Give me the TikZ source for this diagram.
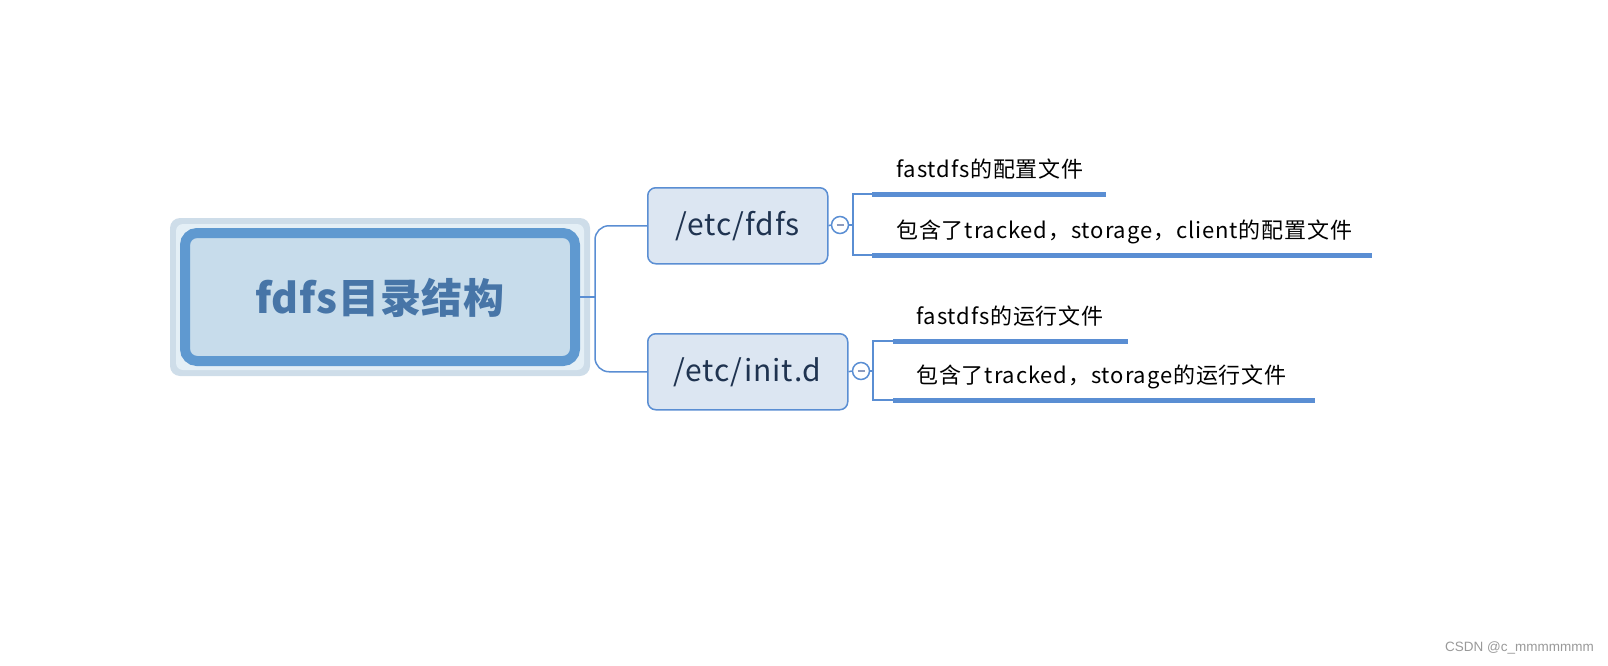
\documentclass[tikz,border=0pt]{standalone}
\usepackage{fontspec}
\setmainfont{Noto Sans CJK SC}
\newfontfamily\wmfont{Liberation Sans}
\definecolor{halo}{HTML}{CEDDE9}
\definecolor{haloin}{HTML}{E4EFF6}
\definecolor{mainborder}{HTML}{5F99D0}
\definecolor{mainfill}{HTML}{C7DCEB}
\definecolor{maintext}{HTML}{4775A7}
\definecolor{subfill}{HTML}{DCE6F2}
\definecolor{lineblue}{HTML}{5A8ED3}
\definecolor{subtext}{HTML}{1F3350}
\definecolor{minusc}{HTML}{8C9BBE}
\tikzset{
  branchbox/.style={draw=lineblue, line width=1.5pt, fill=subfill, rounded corners=8pt, anchor=north west, inner sep=0pt, text=subtext, font=\fontsize{30}{34}\selectfont\addfontfeature{LetterSpace=3}},
  conn/.style={draw=lineblue, line width=1.5pt},
  uline/.style={draw=lineblue, line width=5pt},
  leaftext/.style={anchor=base west, inner sep=0pt, font=\fontsize{22}{26}\selectfont\addfontfeature{LetterSpace=4}, text=black},
  collapse/.style={circle, draw=lineblue, line width=1.5pt, fill=white, minimum size=17pt, inner sep=0pt},
}
\begin{document}
\begin{tikzpicture}[x=1pt,y=-1pt]
\useasboundingbox (0,0) rectangle (1608,666);
% main topic
\fill[halo, rounded corners=10pt] (170,218) rectangle (590,376);
\fill[haloin, rounded corners=7pt] (176,224) rectangle (584,370);
\draw[mainborder, line width=10pt, fill=mainfill, rounded corners=12pt] (185,233) rectangle (575,361);
\node[inner sep=0pt, text=maintext, font=\fontsize{41}{46}\selectfont\bfseries\addfontfeature{LetterSpace=2}] (main) at (380,298) {fdfs目录结构};
\coordinate (mainr) at (580,297);
% branches
\node[branchbox, minimum width=180pt, minimum height=76pt] (b1) at (647,187) {/etc/fdfs};
\node[branchbox, minimum width=200pt, minimum height=76pt] (b2) at (647,333) {/etc/init.d};
\draw[conn, rounded corners=14pt] (b1.west) -| (595,297) |- (b2.west);
\draw[conn] (mainr) -- (595,297);
% collapse buttons
\node[collapse] (c1) at (840,225) {};
\node[collapse] (c2) at (861,371) {};
\draw[minusc, line width=1.5pt] ([xshift=-3.5pt]c1.center) -- ([xshift=3.5pt]c1.center);
\draw[minusc, line width=1.5pt] ([xshift=-3.5pt]c2.center) -- ([xshift=3.5pt]c2.center);
\draw[conn] (b1.east) -- (c1.west);
\draw[conn] (b2.east) -- (c2.west);
% leaves group 1
\coordinate (l1a) at (872,194);
\coordinate (l1b) at (872,255);
\draw[conn] (c1.east) -- (853,225);
\draw[conn] (l1a) -| (853,255) -- (l1b);
\draw[uline] (l1a) -- (1106,194);
\draw[uline] (l1b) -- (1372,255);
\node[leaftext] (t1) at (896,177) {fastdfs的配置文件};
\node[leaftext] (t2) at (896,238) {包含了tracked，storage，client的配置文件};
% leaves group 2
\coordinate (l2a) at (893,341);
\coordinate (l2b) at (893,400);
\draw[conn] (c2.east) -- (873,371);
\draw[conn] (l2a) -| (873,400) -- (l2b);
\draw[uline] (l2a) -- (1128,341);
\draw[uline] (l2b) -- (1315,400);
\node[leaftext] (t3) at (916,324) {fastdfs的运行文件};
\node[leaftext] (t4) at (916,383) {包含了tracked，storage的运行文件};
% watermark
\node[anchor=east, inner sep=0pt, text=black!40, font=\wmfont\fontsize{13.5}{15}\selectfont] (wm) at (1594,648) {CSDN @c\_mmmmmmm};
\end{tikzpicture}
\end{document}
